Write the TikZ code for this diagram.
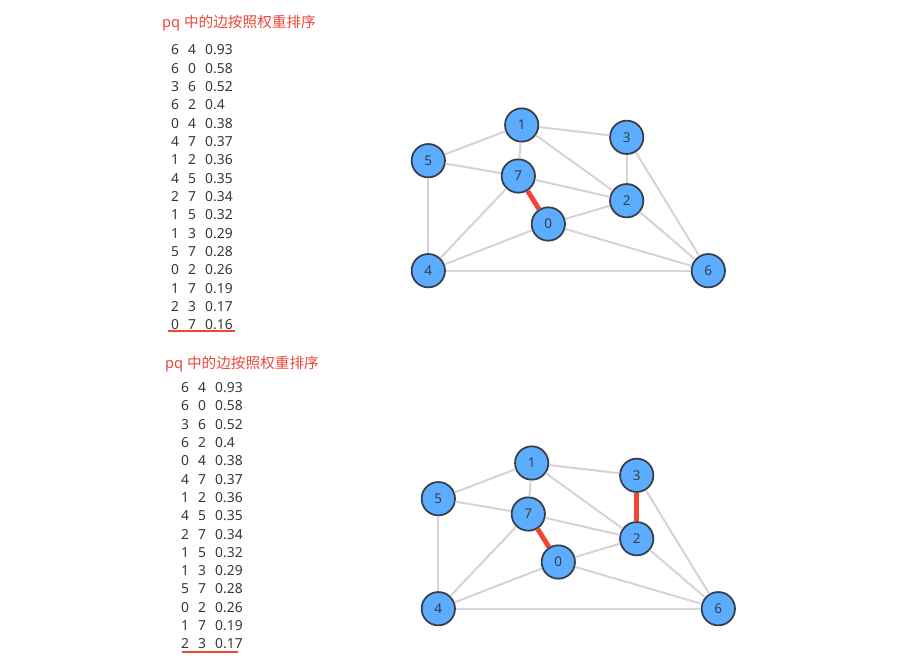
\documentclass[tikz,border=0pt]{standalone}
\usepackage{fontspec}
\setmainfont{Noto Sans}
\newfontfamily\cjk{Noto Sans CJK SC}
\definecolor{titlered}{RGB}{232,72,58}
\definecolor{listgray}{RGB}{55,55,55}
\definecolor{vtxfill}{RGB}{92,172,255}
\definecolor{vtxborder}{RGB}{55,62,72}
\definecolor{edgegray}{RGB}{212,212,212}
\definecolor{pickred}{RGB}{242,70,50}
\tikzset{
  vtx/.style={circle,draw=vtxborder,fill=vtxfill,line width=1.5pt,minimum size=1cm,
    inner sep=0pt,text=vtxborder,font=\fontsize{11.5}{13}\selectfont},
  edge/.style={draw=edgegray,line width=1.7pt},
  picked/.style={draw=pickred,line width=4.2pt},
  heading/.style={anchor=west,inner sep=0pt,text=titlered,font=\fontsize{12.5}{15}\selectfont},
  entry/.style={anchor=west,inner sep=0pt,text=listgray,font=\fontsize{11.8}{14}\selectfont}
}
\begin{document}
\begin{tikzpicture}[x=0.03cm,y=-0.03cm]
  \useasboundingbox (0,0) rectangle (902,665);
  % headings
  \node[heading] (ta) at (162,23) {pq \cjk 中的边按照权重排序};
  \node[heading] (tb) at (165,364) {pq \cjk 中的边按照权重排序};
  % sorted edge lists
  \foreach \u/\v/\w [count=\i] in {6/4/0.93,6/0/0.58,3/6/0.52,6/2/0.4,0/4/0.38,4/7/0.37,
      1/2/0.36,4/5/0.35,2/7/0.34,1/5/0.32,1/3/0.29,5/7/0.28,0/2/0.26,1/7/0.19,2/3/0.17,0/7/0.16}{
    \node[entry] (la\i) at (171,{50+18.33*(\i-1)}) {\u};
    \node[entry] at (188,{50+18.33*(\i-1)}) {\v};
    \node[entry] at (205,{50+18.33*(\i-1)}) {\w};
  }
  \foreach \u/\v/\w [count=\i] in {6/4/0.93,6/0/0.58,3/6/0.52,6/2/0.4,0/4/0.38,4/7/0.37,
      1/2/0.36,4/5/0.35,2/7/0.34,1/5/0.32,1/3/0.29,5/7/0.28,0/2/0.26,1/7/0.19,2/3/0.17}{
    \node[entry] (lb\i) at (181,{387.7+18.3*(\i-1)}) {\u};
    \node[entry] at (198,{387.7+18.3*(\i-1)}) {\v};
    \node[entry] at (215,{387.7+18.3*(\i-1)}) {\w};
  }
  \draw[pickred,line width=1.6pt] (168,331) -- (235,331);
  \draw[pickred,line width=1.6pt] (182,652) -- (238,652);
  % the two graphs
  \foreach \p/\dx/\dy in {a/0/0,b/10/338}{
    \begin{scope}[shift={(\dx,\dy)}]
      \node[vtx] (\p0) at (548.3,224) {0};
      \node[vtx] (\p1) at (521.7,125) {1};
      \node[vtx] (\p2) at (626.7,200.7) {2};
      \node[vtx] (\p3) at (626.7,137.3) {3};
      \node[vtx] (\p4) at (428.3,270.7) {4};
      \node[vtx] (\p5) at (428.3,160.7) {5};
      \node[vtx] (\p6) at (708.3,270.7) {6};
      \node[vtx] (\p7) at (518.3,176) {7};
    \end{scope}
    \foreach \s/\t in {6/4,6/0,3/6,6/2,0/4,4/7,1/2,4/5,2/7,1/5,1/3,5/7,0/2,1/7}
      \draw[edge] (\p\s) -- (\p\t);
    \draw[picked] (\p0) -- (\p7);
  }
  \draw[edge] (a2) -- (a3);
  \draw[picked] (b2) -- (b3);
\end{tikzpicture}
\end{document}
